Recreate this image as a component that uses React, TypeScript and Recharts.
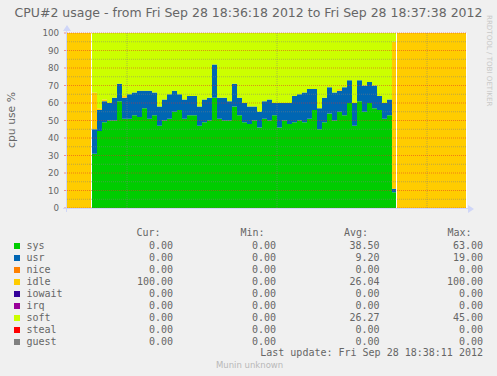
import { Area, AreaChart, ReferenceLine, XAxis, YAxis } from "recharts";

// one value per second, 18:36:18 .. 18:37:38 (80 steps)
const sys = [
  0, 0, 0, 0, 0,
  31, 44, 49, 50, 50, 61, 51, 51, 53, 52,
  57, 51, 53, 47, 50, 51, 55, 56, 51, 53,
  53, 47, 49, 50, 63, 51, 50, 50, 58, 53,
  49, 48, 50, 46, 51, 50, 53, 46, 50, 48,
  49, 50, 49, 51, 56, 45, 49, 54, 50, 55,
  53, 60, 47, 61, 55, 60, 57, 56, 51, 53, 9,
  0, 0, 0, 0, 0, 0, 0, 0, 0, 0, 0, 0, 0, 0,
];
const usr = [
  0, 0, 0, 0, 0,
  14, 12, 12, 10, 13, 10, 12, 14, 13, 15,
  10, 16, 13, 11, 12, 14, 12, 9, 11, 11,
  11, 11, 13, 13, 19, 12, 13, 11, 13, 10,
  11, 10, 8, 9, 10, 12, 7, 14, 10, 12,
  15, 15, 17, 17, 12, 12, 14, 15, 16, 12,
  16, 13, 13, 12, 15, 12, 13, 8, 9, 9, 2,
  0, 0, 0, 0, 0, 0, 0, 0, 0, 0, 0, 0, 0, 0,
];
const idle = [
  100, 100, 100, 100, 100,
  21, 1, 1, 0, 0, 0, 1, 0, 0, 0,
  0, 0, 0, 0, 0, 0, 0, 0, 0, 0,
  0, 0, 0, 0, 0, 0, 0, 0, 0, 0,
  0, 0, 0, 0, 0, 0, 0, 0, 0, 0,
  0, 0, 0, 0, 0, 0, 0, 0, 0, 1,
  0, 0, 0, 0, 0, 0, 0, 0, 0, 0, 84,
  100, 100, 100, 100, 100, 100, 100, 100, 100, 100, 100, 100, 100, 100,
];
const soft = [
  0, 0, 0, 0, 0,
  34, 43, 38, 40, 37, 29, 36, 35, 34, 33,
  33, 33, 34, 42, 38, 35, 33, 35, 38, 36,
  36, 42, 38, 37, 18, 37, 37, 39, 29, 37,
  40, 42, 42, 45, 39, 38, 40, 40, 40, 40,
  36, 35, 34, 32, 32, 43, 37, 31, 34, 32,
  31, 27, 40, 27, 30, 28, 30, 36, 40, 38, 5,
  0, 0, 0, 0, 0, 0, 0, 0, 0, 0, 0, 0, 0, 0,
];

const yTicks = [0, 10, 20, 30, 40, 50, 60, 70, 80, 90, 100];
const minorTicks = [5, 15, 25, 35, 45, 55, 65, 75, 85, 95];
const halfMinutes = [12, 42, 72];

const legendNames = ["sys", "usr", "nice", "idle", "iowait", "irq", "soft", "steal", "guest"];
const legendColors = ["#00CC00", "#0066B3", "#FF8000", "#FFCC00", "#330099", "#990099", "#CCFF00", "#FF0000", "#808080"];
const curVals = ["0.00", "0.00", "0.00", "100.00", "0.00", "0.00", "0.00", "0.00", "0.00"];
const minVals = ["0.00", "0.00", "0.00", "0.00", "0.00", "0.00", "0.00", "0.00", "0.00"];
const avgVals = ["38.50", "9.20", "0.00", "26.04", "0.00", "0.00", "26.27", "0.00", "0.00"];
const maxVals = ["63.00", "19.00", "0.00", "100.00", "0.00", "0.00", "45.00", "0.00", "0.00"];

const FONT = "#666666";
const AXIS = "#CFD6F8";
const MGRID = "rgba(230,40,40,0.5)";
const GRID = "rgba(128,128,128,0.5)";
const mono = "'DejaVu Sans Mono', monospace";

const data = sys.map((v, i) => ({ t: i, sys: v, usr: usr[i], idle: idle[i], soft: soft[i] }));
data.push({ ...data[data.length - 1], t: data.length });

const statCols = [
  { title: "Cur:", vals: curVals, right: 173, hdr: 136.5 },
  { title: "Min:", vals: minVals, right: 276, hdr: 240.5 },
  { title: "Avg:", vals: avgVals, right: 379.5, hdr: 344 },
  { title: "Max:", vals: maxVals, right: 483, hdr: 447.5 },
];

export default function App() {
  return (
    <div style={{ position: "absolute", left: 0, top: 0, width: 497, height: 376, background: "#F0F0F0", overflow: "hidden" }}>
      <AreaChart width={497} height={376} data={data} margin={{ top: 33, right: 30, left: 27, bottom: 168 }}>
        <XAxis dataKey="t" type="number" domain={[0, 80]} hide />
        <YAxis
          domain={[0, 100]}
          ticks={yTicks}
          width={40}
          axisLine={false}
          tickLine={{ stroke: MGRID }}
          tickSize={3}
          tickMargin={5}
          tick={{ fontSize: 8.7, fill: FONT, fontFamily: "DejaVu Sans" }}
          interval={0}
        />
        <Area type="stepAfter" dataKey="sys" stackId="a" fill="#00CC00" fillOpacity={1} stroke="none" isAnimationActive={false} />
        <Area type="stepAfter" dataKey="usr" stackId="a" fill="#0066B3" fillOpacity={1} stroke="none" isAnimationActive={false} />
        <Area type="stepAfter" dataKey="idle" stackId="a" fill="#FFCC00" fillOpacity={1} stroke="none" isAnimationActive={false} />
        <Area type="stepAfter" dataKey="soft" stackId="a" fill="#CCFF00" fillOpacity={1} stroke="none" isAnimationActive={false} />
        <ReferenceLine x={4.9} stroke="#ffffff" strokeWidth={1} />
        <ReferenceLine x={65.9} stroke="#ffffff" strokeWidth={1} />
        <ReferenceLine x={79.9} stroke="#ffffff" strokeWidth={1} />
        {minorTicks.map((v) => (
          <ReferenceLine key={"m" + v} y={v} stroke={GRID} strokeDasharray="1 1" />
        ))}
        {halfMinutes.map((v) => (
          <ReferenceLine key={"v" + v} x={v} stroke={GRID} strokeDasharray="1 1" />
        ))}
        {yTicks.map((v) => (
          <ReferenceLine key={"g" + v} y={v} stroke={MGRID} strokeDasharray="1 1" />
        ))}
      </AreaChart>

      {/* axes + arrows */}
      <div style={{ position: "absolute", left: 66, top: 30, width: 1, height: 182, background: AXIS }} />
      <div style={{ position: "absolute", left: 63, top: 208, width: 406, height: 1, background: AXIS }} />
      <div style={{ position: "absolute", left: 63, top: 25, width: 0, height: 0, borderLeft: "4px solid transparent", borderRight: "4px solid transparent", borderBottom: "6px solid " + AXIS }} />
      <div style={{ position: "absolute", left: 468, top: 204.5, width: 0, height: 0, borderTop: "4px solid transparent", borderBottom: "4px solid transparent", borderLeft: "6px solid " + AXIS }} />

      <div style={{ position: "absolute", left: 0, top: 5, width: 497, textAlign: "center", fontFamily: "DejaVu Sans", fontSize: 12.5, color: FONT, whiteSpace: "nowrap" }}>
        CPU#2 usage - from Fri Sep 28 18:36:18 2012 to Fri Sep 28 18:37:38 2012
      </div>
      <div style={{ position: "absolute", left: 11, top: 120, transform: "translate(-50%, -50%) rotate(-90deg)", fontFamily: "DejaVu Sans", fontSize: 10.8, color: FONT, whiteSpace: "nowrap" }}>
        cpu use %
      </div>
      <div style={{ position: "absolute", left: 485, top: 15, writingMode: "vertical-rl", fontFamily: "DejaVu Sans", fontSize: 7.1, color: "#c8c8c8", whiteSpace: "nowrap", lineHeight: "8px" }}>
        RRDTOOL / TOBI OETIKER
      </div>

      {statCols.map((c) => (
        <div key={c.title} style={{ position: "absolute", left: c.hdr, top: 227, fontFamily: mono, fontSize: 10, lineHeight: "12px", color: FONT }}>
          {c.title}
        </div>
      ))}
      {legendNames.map((n, i) => (
        <div key={n}>
          <div style={{ position: "absolute", left: 14, top: 242.5 + i * 12, width: 6, height: 6, background: legendColors[i] }} />
          <div style={{ position: "absolute", left: 26.5, top: 240 + i * 12, fontFamily: mono, fontSize: 10, lineHeight: "12px", color: FONT }}>{n}</div>
          {statCols.map((c) => (
            <div key={c.title} style={{ position: "absolute", right: 497 - c.right, top: 240 + i * 12, fontFamily: mono, fontSize: 10, lineHeight: "12px", color: FONT, textAlign: "right", whiteSpace: "pre" }}>
              {c.vals[i]}
            </div>
          ))}
        </div>
      ))}
      <div style={{ position: "absolute", right: 497 - 483, top: 347, fontFamily: mono, fontSize: 10, lineHeight: "12px", color: FONT, whiteSpace: "pre" }}>
        Last update: Fri Sep 28 18:38:11 2012
      </div>
      <div style={{ position: "absolute", left: 216, top: 360, fontFamily: "DejaVu Sans", fontSize: 8.5, lineHeight: "10px", color: "#b8b8b8", whiteSpace: "nowrap" }}>
        Munin unknown
      </div>
    </div>
  );
}
